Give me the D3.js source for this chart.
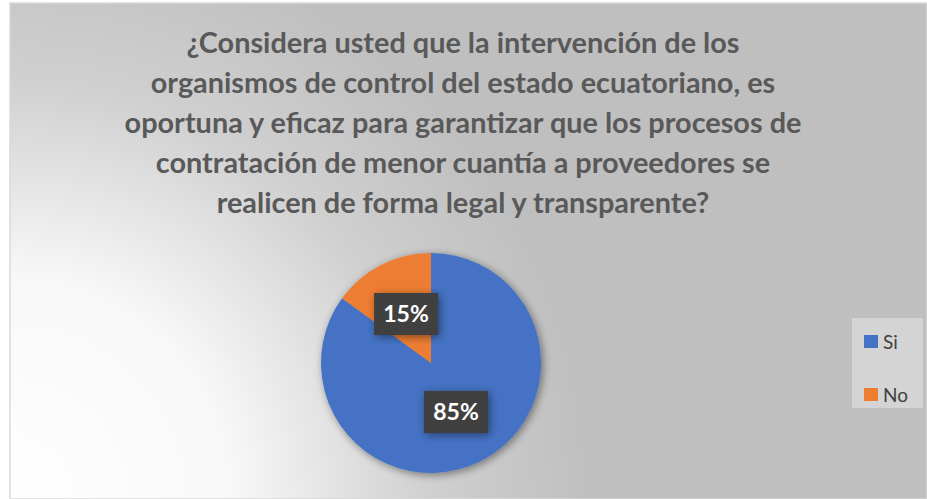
<!DOCTYPE html>
<html>
<head>
<meta charset="utf-8">
<script src="https://cdn.jsdelivr.net/npm/d3@7"></script>
<style>
  body { margin: 0; background: #fff; }
  svg { display: block; }
</style>
</head>
<body>
<div id="chart"></div>
<script>
// data
var categories = ["Si", "No"];
var values = [85, 15];
var labels = ["85%", "15%"];
var colors = ["#4472C4", "#ED7D31"];
var titleLines = [
    "¿Considera usted que la intervención de los",
    "organismos de control del estado ecuatoriano, es",
    "oportuna y eficaz para garantizar que los procesos de",
    "contratación de menor cuantía a proveedores se",
    "realicen de forma legal y transparente?"
];

var W = 927, H = 499;
var cx = 431, cy = 363, r = 110;

var svg = d3.select("#chart").append("svg")
    .attr("width", W)
    .attr("height", H);

var defs = svg.append("defs");

var bg = defs.append("radialGradient")
    .attr("id", "bg")
    .attr("gradientUnits", "userSpaceOnUse")
    .attr("cx", 10).attr("cy", 499).attr("r", 580);
bg.append("stop").attr("offset", "0").attr("stop-color", "#ffffff");
bg.append("stop").attr("offset", "0.38").attr("stop-color", "#f8f8f8");
bg.append("stop").attr("offset", "0.72").attr("stop-color", "#d0d0d0");
bg.append("stop").attr("offset", "1").attr("stop-color", "#bfbfbf");

var shadow = defs.append("filter")
    .attr("id", "shadow")
    .attr("x", "-30%").attr("y", "-30%")
    .attr("width", "160%").attr("height", "160%");
shadow.append("feGaussianBlur").attr("in", "SourceAlpha").attr("stdDeviation", 4);
shadow.append("feOffset").attr("dx", 2).attr("dy", 2).attr("result", "b");
shadow.append("feComponentTransfer").append("feFuncA").attr("type", "linear").attr("slope", 0.45);
var m = shadow.append("feMerge");
m.append("feMergeNode");
m.append("feMergeNode").attr("in", "SourceGraphic");

// chart area
svg.append("rect")
    .attr("x", 10).attr("y", 3)
    .attr("width", W - 10).attr("height", H - 3)
    .attr("fill", "url(#bg)")
    .attr("stroke", "#d9d9d9")
    .attr("stroke-width", 1.5);

// title
var title = svg.append("text")
    .attr("text-anchor", "middle")
    .attr("fill", "#595959")
    .style("font-family", "Lato, 'Open Sans', sans-serif")
    .style("font-weight", "bold")
    .style("font-size", "26px");

title.selectAll("tspan")
    .data(titleLines)
    .enter()
    .append("tspan")
    .attr("x", 463)
    .attr("y", function(d, i) { return 53 + i * 40; })
    .text(function(d) { return d; });

// fit widest line to ~677px
var widest = d3.max(title.selectAll("tspan").nodes(), function(n) { return n.getComputedTextLength(); });
title.style("font-size", (26 * 677 / widest) + "px");

// pie
var pie = d3.pie().sort(null).value(function(d) { return d; });
var arc = d3.arc().innerRadius(0).outerRadius(r);
var arcs = pie(values);

var g = svg.append("g")
    .attr("transform", "translate(" + cx + "," + cy + ")");

g.append("g")
    .attr("filter", "url(#shadow)")
    .selectAll("path")
    .data(arcs)
    .enter()
    .append("path")
    .attr("d", arc)
    .attr("fill", function(d, i) { return colors[i]; });

// data labels
var labelArc = d3.arc().innerRadius(r * 0.5).outerRadius(r * 0.5);
var lab = g.selectAll(".lab")
    .data(arcs)
    .enter()
    .append("g")
    .attr("class", "lab")
    .attr("transform", function(d) {
        var c = labelArc.centroid(d);
        return "translate(" + c[0] + "," + c[1] + ")";
    });

lab.append("rect")
    .attr("x", -32).attr("y", -21)
    .attr("width", 64).attr("height", 42)
    .attr("fill", "#404040")
    .attr("filter", "url(#shadow)");

lab.append("text")
    .attr("text-anchor", "middle")
    .attr("dy", "0.36em")
    .attr("fill", "#ffffff")
    .style("font-family", "Lato, 'Open Sans', sans-serif")
    .style("font-weight", "bold")
    .style("font-size", "23px")
    .text(function(d, i) { return labels[i]; });

// legend
var legend = svg.append("g");
legend.append("rect")
    .attr("x", 852).attr("y", 318)
    .attr("width", 71).attr("height", 90)
    .attr("fill", "#d4d4d4");

var item = legend.selectAll(".item")
    .data(categories)
    .enter()
    .append("g")
    .attr("class", "item")
    .attr("transform", function(d, i) { return "translate(864," + (335 + i * 53) + ")"; });

item.append("rect")
    .attr("width", 14).attr("height", 13)
    .attr("fill", function(d, i) { return colors[i]; });

item.append("text")
    .attr("x", 19).attr("y", 7)
    .attr("dy", "0.36em")
    .attr("fill", "#404040")
    .style("font-family", "Lato, 'Open Sans', sans-serif")
    .style("font-size", "19px")
    .text(function(d) { return d; });
</script>
</body>
</html>
